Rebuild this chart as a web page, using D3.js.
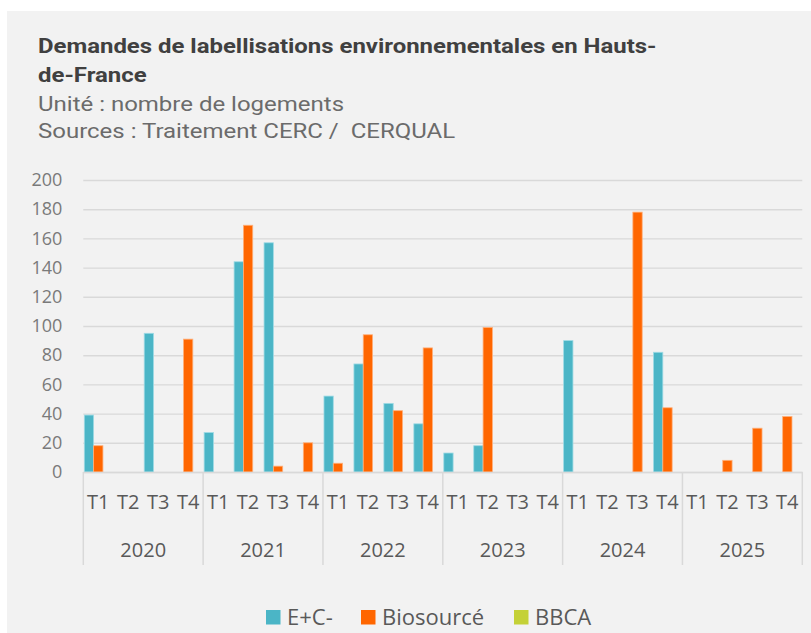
<!DOCTYPE html>
<html>
<head>
<meta charset="utf-8">
<script src="https://cdn.jsdelivr.net/npm/d3@7"></script>
<style>
  body { margin: 0; background: #ffffff; }
  svg { display: block; }
</style>
</head>
<body>
<svg id="canvas"></svg>
<script>
// data
const years = ['2020', '2021', '2022', '2023', '2024', '2025'];
const quarters = ['T1', 'T2', 'T3', 'T4'];
const seriesNames = ['E+C-', 'Biosourcé', 'BBCA'];
const ecValues = [39, 0, 95, 0, 27, 144, 157, 0, 52, 74, 47, 33, 13, 18, 0, 0, 90, 0, 0, 82, 0, 0, 0, 0];
const bioValues = [18, 0, 0, 91, 0, 169, 4, 20, 6, 94, 42, 85, 0, 99, 0, 0, 0, 0, 178, 44, 0, 8, 30, 38];
const bbcaValues = [0, 0, 0, 0, 0, 0, 0, 0, 0, 0, 0, 0, 0, 0, 0, 0, 0, 0, 0, 0, 0, 0, 0, 0];
const yTicks = [0, 20, 40, 60, 80, 100, 120, 140, 160, 180, 200];

const colors = ['#4bb5c6', '#ff6600', '#c4d137'];
const edges = ['#9fdbe5', '#ffb07a', '#e0e89a'];

let width = 811;
let height = 633;

let canvas = d3.select('#canvas')
    .attr('width', width)
    .attr('height', height);

// grey panel
canvas.append('rect')
    .attr('x', 7)
    .attr('y', 11)
    .attr('width', width - 7)
    .attr('height', height - 11)
    .attr('fill', '#f2f2f2');

// titles (the source picture is a bit stretched sideways)
const titleLines = [
    { text: 'Demandes de labellisations environnementales en Hauts-', y: 53, bold: true },
    { text: 'de-France', y: 82, bold: true },
    { text: 'Unité : nombre de logements', y: 111, bold: false },
    { text: 'Sources : Traitement CERC /  CERQUAL', y: 138, bold: false }
];

canvas.append('g')
    .selectAll('text')
    .data(titleLines)
    .enter()
    .append('text')
    .attr('transform', d => 'translate(38,' + d.y + ') scale(' + (d.bold ? 1.14 : 1.2) + ',1)')
    .attr('font-family', 'Roboto')
    .attr('font-weight', d => d.bold ? 'bold' : 'normal')
    .attr('font-size', d => d.bold ? 21 : 20)
    .attr('fill', d => d.bold ? '#404040' : '#6b6b6b')
    .style('white-space', 'pre')
    .text(d => d.text);

// categories: one per year+quarter
const categories = [];
years.forEach(y => quarters.forEach(q => categories.push(y + '-' + q)));

const rows = categories.map((c, i) => ({
    key: c,
    values: [ecValues[i], bioValues[i], bbcaValues[i]]
}));

const plotLeft = 83.3;
const plotRight = 802.3;
const plotTop = 180;
const plotBottom = 472;

const xScale = d3.scaleBand()
    .domain(categories)
    .range([plotLeft, plotRight])
    .padding(0);

const xInner = d3.scaleBand()
    .domain(seriesNames)
    .range([0, xScale.bandwidth()])
    .paddingInner(0)
    .paddingOuter(0.107);

const yScale = d3.scaleLinear()
    .domain([0, 200])
    .range([plotBottom, plotTop]);

// y axis with gridlines
const yAxis = d3.axisLeft(yScale)
    .tickValues(yTicks)
    .tickSize(-(plotRight - plotLeft))
    .tickPadding(21);

const yG = canvas.append('g')
    .attr('transform', 'translate(' + plotLeft + ',0)')
    .call(yAxis);
yG.select('.domain').remove();
yG.selectAll('.tick line')
    .attr('stroke', '#d9d9d9')
    .attr('stroke-width', 1.4);
yG.selectAll('.tick text')
    .attr('font-family', 'Open Sans')
    .attr('font-size', 18)
    .attr('fill', '#7a7a7a');

// bars
const groups = canvas.append('g')
    .selectAll('g')
    .data(rows)
    .enter()
    .append('g')
    .attr('transform', d => 'translate(' + xScale(d.key) + ',0)');

groups.selectAll('rect')
    .data(d => d.values.map((v, i) => ({ series: seriesNames[i], idx: i, value: v })).filter(e => e.value > 0))
    .enter()
    .append('rect')
    .attr('x', d => xInner(d.series))
    .attr('width', xInner.bandwidth())
    .attr('y', d => yScale(d.value))
    .attr('height', d => yScale(0) - yScale(d.value))
    .attr('fill', d => colors[d.idx])
    .attr('stroke', d => edges[d.idx])
    .attr('stroke-width', 0.8);

// category axis (two levels)
const xAxis = d3.axisBottom(xScale)
    .tickSize(0)
    .tickPadding(23)
    .tickFormat(d => d.split('-')[1]);

const xG = canvas.append('g')
    .attr('transform', 'translate(0,' + plotBottom + ')')
    .call(xAxis);
xG.select('.domain')
    .attr('stroke', '#d9d9d9')
    .attr('stroke-width', 1.5);
xG.selectAll('.tick text')
    .attr('font-family', 'Open Sans')
    .attr('font-size', 20)
    .attr('fill', '#595959');

const yearScale = d3.scaleBand()
    .domain(years)
    .range([plotLeft, plotRight]);

// separators between years
canvas.append('g')
    .selectAll('line')
    .data(years.concat(['end']))
    .enter()
    .append('line')
    .attr('x1', (d, i) => i < years.length ? yearScale(d) : plotRight)
    .attr('x2', (d, i) => i < years.length ? yearScale(d) : plotRight)
    .attr('y1', plotBottom)
    .attr('y2', 565)
    .attr('stroke', '#d9d9d9')
    .attr('stroke-width', 1.5);

canvas.append('g')
    .selectAll('text')
    .data(years)
    .enter()
    .append('text')
    .attr('x', d => yearScale(d) + yearScale.bandwidth() / 2)
    .attr('y', 557)
    .attr('text-anchor', 'middle')
    .attr('font-family', 'Open Sans')
    .attr('font-size', 20)
    .attr('fill', '#595959')
    .text(d => d);

// legend
const legend = canvas.append('g')
    .attr('transform', 'translate(266,610)');

const legendX = [0, 95, 248];

const items = legend.selectAll('g')
    .data(seriesNames)
    .enter()
    .append('g')
    .attr('transform', (d, i) => 'translate(' + legendX[i] + ',0)');

items.append('rect')
    .attr('width', 14.5)
    .attr('height', 14.5)
    .attr('fill', (d, i) => colors[i]);

items.append('text')
    .attr('x', 21)
    .attr('y', 15)
    .attr('font-family', 'Open Sans')
    .attr('font-size', 22)
    .attr('fill', '#595959')
    .text(d => d);
</script>
</body>
</html>
